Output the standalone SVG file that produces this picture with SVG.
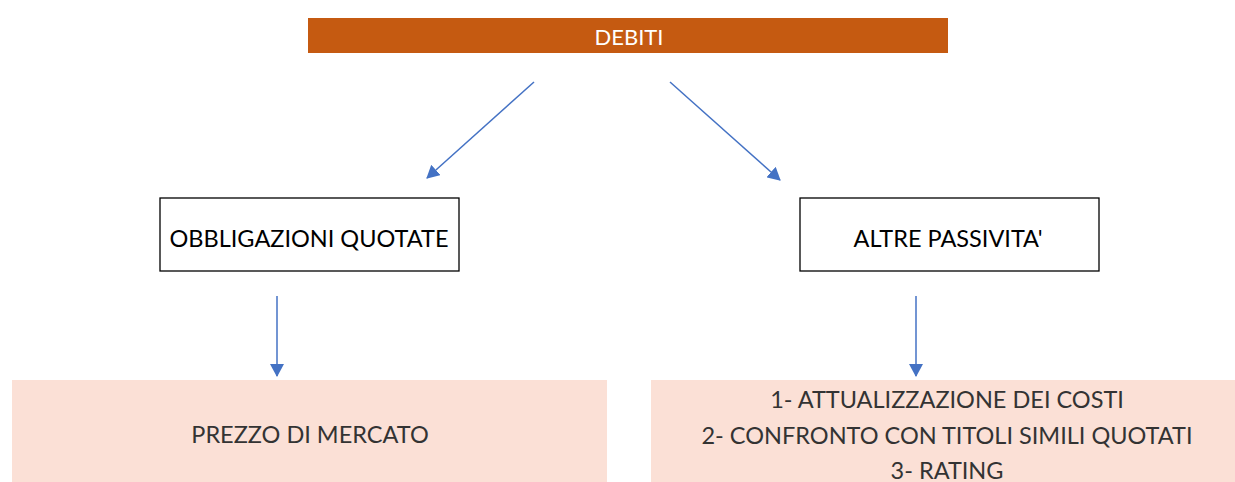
<svg xmlns="http://www.w3.org/2000/svg" width="1235" height="482" viewBox="0 0 1235 482">
  <style>
    .lbl { font-family: Lato, "Open Sans", "Liberation Sans", sans-serif; font-size: 23.5px; text-anchor: middle; }
    .dark { fill: #000000; }
    .soft { fill: #333333; }
    .box { fill: #ffffff; stroke: #000000; stroke-width: 1.3; }
    .peach { fill: #FBE0D6; }
    .conn { stroke: #4472C4; stroke-width: 1.5; fill: none; marker-end: url(#head); }
  </style>
  <defs>
    <marker id="head" viewBox="0 0 13 14" refX="12" refY="7" markerWidth="13" markerHeight="14" markerUnits="userSpaceOnUse" orient="auto">
      <path d="M0,0 L13,7 L0,14 z" fill="#4472C4"/>
    </marker>
  </defs>
  <rect width="1235" height="482" fill="#ffffff"/>

  <g id="debiti">
    <rect x="308" y="18" width="640" height="35" fill="#C55A11"/>
    <text x="629" y="45" class="lbl" style="font-size:22px" fill="#ffffff">DEBITI</text>
  </g>

  <g id="obbligazioni">
    <rect x="160" y="198" width="299" height="73" class="box"/>
    <text x="309" y="247" class="lbl dark">OBBLIGAZIONI QUOTATE</text>
  </g>

  <g id="altre">
    <rect x="800" y="198" width="299" height="73" class="box"/>
    <text x="948" y="247" class="lbl dark">ALTRE PASSIVITA'</text>
  </g>

  <g id="prezzo">
    <rect x="12" y="380" width="595" height="102" class="peach"/>
    <text x="310" y="443" class="lbl soft">PREZZO DI MERCATO</text>
  </g>

  <g id="metodi">
    <rect x="651" y="380" width="584" height="102" class="peach"/>
    <text x="947" y="408" class="lbl soft">1- ATTUALIZZAZIONE DEI COSTI</text>
    <text x="947" y="444" class="lbl soft">2- CONFRONTO CON TITOLI SIMILI QUOTATI</text>
    <text x="947" y="479" class="lbl soft">3- RATING</text>
  </g>

  <g id="connectors">
    <line x1="534" y1="82" x2="427" y2="178" class="conn"/>
    <line x1="670" y1="82" x2="780" y2="180" class="conn"/>
    <line x1="277" y1="296" x2="277" y2="376" class="conn"/>
    <line x1="916" y1="296" x2="916" y2="376" class="conn"/>
  </g>
</svg>
